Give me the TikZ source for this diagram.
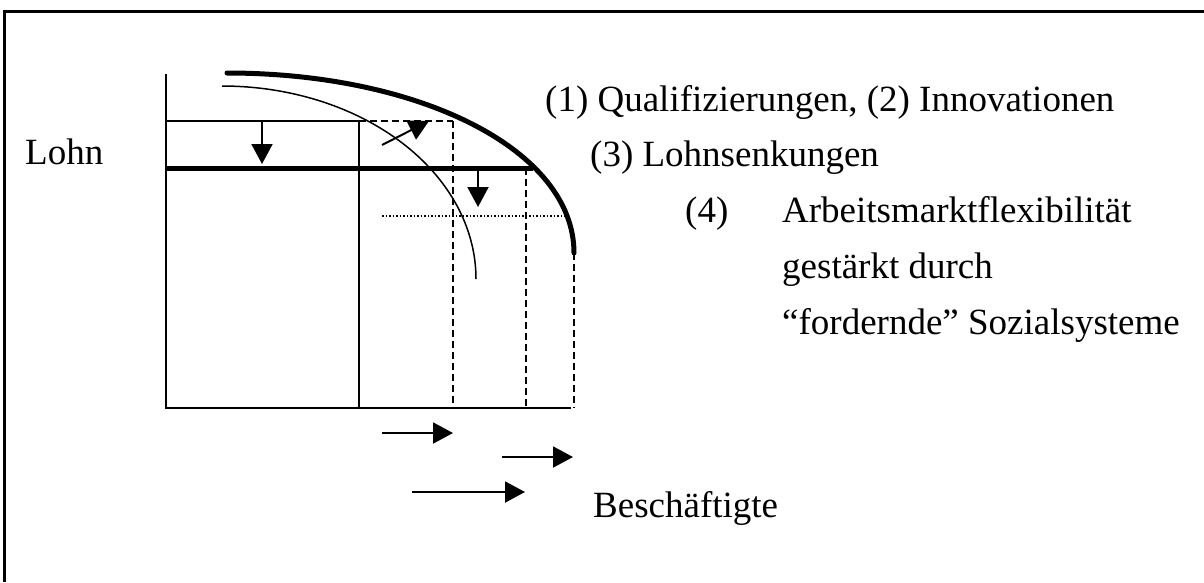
\documentclass[tikz,border=0pt]{standalone}
\usepackage{fontspec}
\setmainfont{Liberation Serif}
\usetikzlibrary{arrows.meta}
\begin{document}
\begin{tikzpicture}[x=1pt,y=-1pt,
  thinline/.style={line width=1.5pt},
  axis/.style={line width=2pt},
  thickline/.style={line width=5pt},
  dashline/.style={line width=2pt, dash pattern=on 7pt off 4pt},
  dotline/.style={line width=1.5pt, dash pattern=on 1.5pt off 2pt},
  arr/.style={line width=2pt, -{Triangle[length=20pt,width=21pt]}},
  lbl/.style={anchor=base west, inner sep=0pt, font=\fontsize{37}{44}\selectfont}]
\useasboundingbox (0,0) rectangle (1204,582);
% frame
\draw[line width=3pt] (4,582) -- (4,11) -- (1204,11);
% axes
\draw[axis] (166,74) -- (166,408) -- (571,408);
% thin wage line and vertical
\draw[thinline] (166,121) -- (359,121);
\draw[thinline] (359,121) -- (359,408);
\draw[dashline] (359,121) -- (453,121);
% thick wage line
\draw[thickline] (166,168) -- (533,168);
% dashed verticals
\draw[dashline] (453,121) -- (453,408);
\draw[dashline] (526,168) -- (526,408);
\draw[dashline] (574,253) -- (574,408);
% dotted horizontal
\draw[dotline] (382,216) -- (570,216);
% curves
\draw[thinline] plot[domain=90:0, samples=80, smooth] ({222+254*cos(\x)},{279-193*sin(\x)});
\draw[thickline, line cap=round] (227,73) .. controls (420,73) and (574,150) .. (574,253);
% arrows
\coordinate (a1s) at (262,121); \coordinate (a1e) at (262,164);
\coordinate (a2s) at (478,168); \coordinate (a2e) at (478,207);
\coordinate (a3s) at (382,145); \coordinate (a3e) at (429,121);
\coordinate (b1s) at (382,433); \coordinate (b1e) at (453,433);
\coordinate (b2s) at (502,457); \coordinate (b2e) at (573,457);
\coordinate (b3s) at (412,492); \coordinate (b3e) at (525,492);
\draw[arr] (a1s) -- (a1e);
\draw[arr] (a2s) -- (a2e);
\draw[arr] (a3s) -- (a3e);
\draw[arr] (b1s) -- (b1e);
\draw[arr] (b2s) -- (b2e);
\draw[arr] (b3s) -- (b3e);
% labels
\node[lbl] (lohn) at (25,164) {Lohn};
\node[lbl] (t1) at (545,111) {(1) Qualifizierungen, (2) Innovationen};
\node[lbl] (t3) at (590,166) {(3) Lohnsenkungen};
\node[lbl] (t4) at (685,222) {(4)};
\node[lbl] (t4a) at (782,222) {Arbeitsmarktflexibilität};
\node[lbl] (t4b) at (782,278) {gestärkt durch};
\node[lbl] (t4c) at (782,334) {“fordernde” Sozialsysteme};
\node[lbl] (besch) at (593,517) {Beschäftigte};
\end{tikzpicture}
\end{document}
